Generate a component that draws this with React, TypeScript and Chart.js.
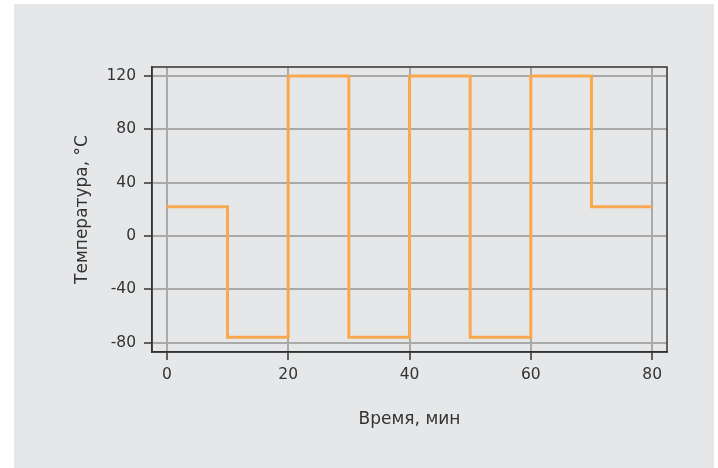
import React, { useEffect, useRef } from "react";
import { Chart, registerables } from "chart.js";

Chart.register(...registerables);

const timeMin = [0, 10, 20, 30, 40, 50, 60, 70, 80];
const temperatureC = [22, -76, 120, -76, 120, -76, 120, 22, 22];
const xTicks = [0, 20, 40, 60, 80];
const yTicks = [-80, -40, 0, 40, 80, 120];
const xTitle = "Время, мин";
const yTitle = "Температура, °C";

const FONT = "'DejaVu Sans', sans-serif";
const TEXT = "#333333";
const GRID = "#a9a9a9";
const FRAME = "#333333";

export default function App() {
  const ref = useRef<HTMLCanvasElement | null>(null);

  useEffect(() => {
    if (!ref.current) return;
    const panel = {
      id: "panel",
      beforeDraw(chart: any) {
        const ctx = chart.ctx;
        ctx.save();
        ctx.fillStyle = "#ffffff";
        ctx.fillRect(0, 0, chart.width, chart.height);
        ctx.fillStyle = "#e6e7e9";
        ctx.fillRect(14, 4, 700, 464);
        ctx.restore();
      },
      afterDraw(chart: any) {
        const { left, top, right, bottom } = chart.chartArea;
        const ctx = chart.ctx;
        ctx.save();
        ctx.strokeStyle = FRAME;
        ctx.lineWidth = 1.5;
        ctx.strokeRect(left, top, right - left, bottom - top);
        ctx.restore();
      },
    };

    const chart = new Chart(ref.current, {
      type: "line",
      data: {
        datasets: [
          {
            data: timeMin.map((t, i) => ({ x: t, y: temperatureC[i] })),
            borderColor: "#f9a84f",
            borderWidth: 3,
            pointRadius: 0,
            stepped: "before",
            fill: false,
          },
        ],
      },
      options: {
        animation: false,
        responsive: false,
        maintainAspectRatio: false,
        layout: { padding: { left: 72, top: 67, right: 51, bottom: 38 } },
        plugins: { legend: { display: false }, tooltip: { enabled: false } },
        scales: {
          x: {
            type: "linear",
            min: -2.45,
            max: 82.45,
            afterBuildTicks: (s: any) => {
              s.ticks = xTicks.map((v) => ({ value: v }));
            },
            afterFit: (s: any) => {
              s.height = 78;
            },
            grid: {
              color: GRID,
              lineWidth: 2,
              drawTicks: true,
              tickLength: 8,
              tickColor: FRAME,
              tickWidth: 1.5,
            },
            border: { display: true, color: FRAME, width: 1.5 },
            ticks: {
              color: TEXT,
              font: { family: FONT, size: 15.5 },
              padding: 6,
              maxRotation: 0,
            },
            title: {
              display: true,
              text: xTitle,
              color: TEXT,
              font: { family: FONT, size: 17 },
              padding: 0,
            },
          },
          y: {
            type: "linear",
            min: -87,
            max: 126.75,
            afterBuildTicks: (s: any) => {
              s.ticks = yTicks.map((v) => ({ value: v }));
            },
            afterFit: (s: any) => {
              s.width = 80;
            },
            grid: {
              color: GRID,
              lineWidth: 2,
              drawTicks: true,
              tickLength: 8,
              tickColor: FRAME,
              tickWidth: 1.5,
            },
            border: { display: true, color: FRAME, width: 1.5 },
            ticks: {
              color: TEXT,
              font: { family: FONT, size: 15.5 },
              padding: 8,
            },
            title: {
              display: true,
              text: yTitle,
              color: TEXT,
              font: { family: FONT, size: 17 },
              padding: 0,
            },
          },
        },
      },
      plugins: [panel],
    });
    return () => chart.destroy();
  }, []);

  return (
    <div style={{ position: "absolute", left: 0, top: 0, width: 718, height: 468 }}>
      <canvas ref={ref} width={718} height={468} style={{ width: 718, height: 468, display: "block" }} />
    </div>
  );
}
